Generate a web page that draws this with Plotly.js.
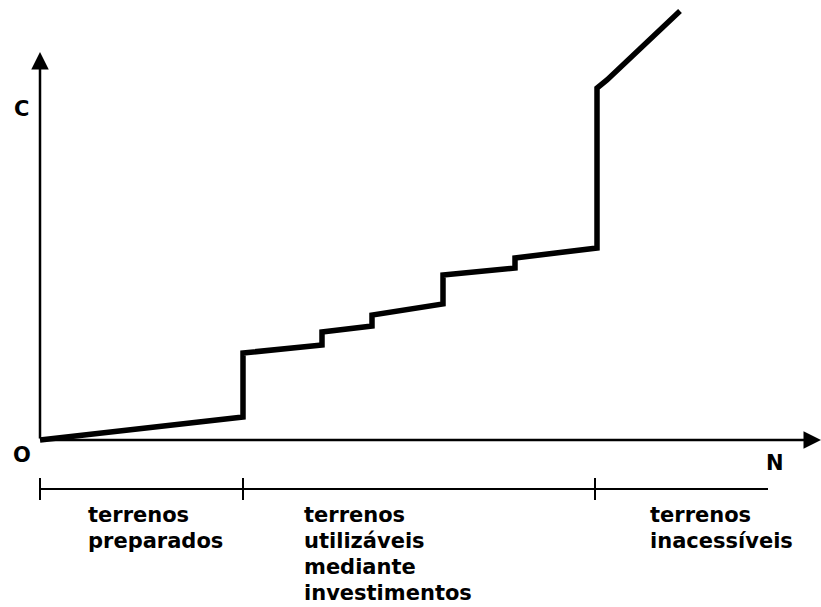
<!DOCTYPE html>
<html>
<head>
<meta charset="utf-8">
<script src="https://cdn.plot.ly/plotly-3.0.1.min.js"></script>
<style>html,body{margin:0;padding:0;background:#fff;}#chart{width:821px;height:607px;}</style>
</head>
<body>
<div id="chart"></div>
<script>
// Cost curve C as a function of N (stepped)
const curveN = [0, 20.3, 20.3, 28.2, 28.2, 33.2, 33.2, 40.3, 40.3, 47.5, 47.5, 55.7, 55.7, 56.7, 64.0];
const curveC = [0, 2.3, 8.7, 9.5, 10.8, 11.4, 12.5, 13.6, 16.5, 17.2, 18.2, 19.2, 35.2, 36.0, 42.9];

// Land category boundaries along N
const zoneBounds = [0, 20.3, 55.5];
const zoneEnd = 72.8;
const zoneLabels = [
  ["terrenos", "preparados"],
  ["terrenos", "utilizáveis", "mediante", "investimentos"],
  ["terrenos", "inacessíveis"]
];
const zoneLabelN = [4.6, 26.2, 60.8];

const axisLabelC = "C";
const axisLabelN = "N";
const originLabel = "O";

const font = {family: "DejaVu Sans", size: 21, color: "#000", weight: "bold"};
const axisFont = {family: "DejaVu Sans", size: 21, color: "#000", weight: "bold"};

const bracketY = -4.9;
const shapes = [{type: "line", xref: "x", yref: "y", x0: zoneBounds[0], x1: zoneEnd, y0: bracketY, y1: bracketY, line: {color: "#000", width: 2}}];
zoneBounds.forEach(b => shapes.push({type: "line", xref: "x", yref: "y", x0: b, x1: b, y0: -3.8, y1: -6.0, line: {color: "#000", width: 2}}));

const annotations = [
  {x: 0, y: 38.8, ax: 0, ay: 0, axref: "x", ayref: "y", xref: "x", yref: "y", text: "", showarrow: true, arrowhead: 2, arrowsize: 1.4, arrowwidth: 2.5, arrowcolor: "#000", standoff: 0},
  {x: 78.1, y: 0, ax: 0, ay: 0, axref: "x", ayref: "y", xref: "x", yref: "y", text: "", showarrow: true, arrowhead: 2, arrowsize: 1.4, arrowwidth: 2.5, arrowcolor: "#000", standoff: 0},
  {x: -1.9, y: 33.1, xref: "x", yref: "y", text: axisLabelC, showarrow: false, font: axisFont},
  {x: -1.8, y: -1.5, xref: "x", yref: "y", text: originLabel, showarrow: false, font: axisFont},
  {x: 73.5, y: -2.3, xref: "x", yref: "y", text: axisLabelN, showarrow: false, font: axisFont}
];
zoneLabels.forEach((lines, i) => lines.forEach((t, j) => annotations.push({
  x: zoneLabelN[i], y: -7.5 - 2.6 * j, xref: "x", yref: "y", xanchor: "left", yanchor: "middle", align: "left",
  text: t, showarrow: false, font: font
})));

const data = [{
  x: curveN, y: curveC, type: "scatter", mode: "lines",
  line: {color: "#000", width: 5.5}, hoverinfo: "skip"
}];

const layout = {
  width: 821, height: 607,
  margin: {l: 0, r: 0, t: 0, b: 0},
  paper_bgcolor: "#fff", plot_bgcolor: "#fff",
  showlegend: false,
  xaxis: {range: [-4, 78.1], visible: false, fixedrange: true},
  yaxis: {range: [-16.7, 44], visible: false, fixedrange: true},
  shapes: shapes,
  annotations: annotations
};

Plotly.newPlot("chart", data, layout, {displayModeBar: false, staticPlot: true});
</script>
</body>
</html>
